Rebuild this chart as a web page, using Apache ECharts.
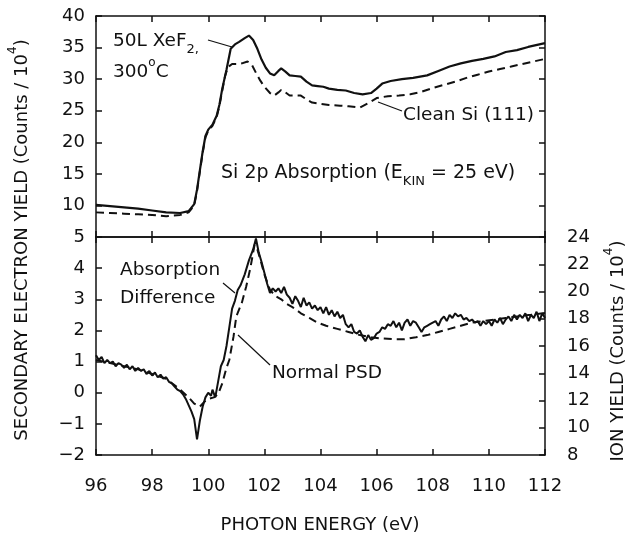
<!DOCTYPE html>
<html><head><meta charset="utf-8">
<script src="https://cdn.jsdelivr.net/npm/echarts@6/dist/echarts.min.js"></script>
<style>html,body{margin:0;padding:0;background:#fff}#c{width:631px;height:533px}</style>
</head><body><div id="c"></div><script>
// Photon energy axis ticks (eV)
const energyTicks = [96, 98, 100, 102, 104, 106, 108, 110, 112];
// Top panel: secondary electron yield (Counts/10^4)
const xef2Yield = [
 [96.0,10.1],[96.5,9.9],[97.0,9.7],[97.5,9.5],[98.0,9.2],[98.5,8.9],[99.0,8.8],[99.3,9.1],[99.5,10.2],
 [99.6,12.5],[99.7,15.5],[99.8,18.5],[99.9,21.0],[100.0,22.0],[100.15,22.8],[100.3,24.2],[100.4,26.0],
 [100.5,28.5],[100.65,31.5],[100.8,34.8],[100.95,35.5],[101.1,35.9],[101.3,36.5],[101.45,36.9],[101.6,36.2],
 [101.75,34.8],[101.9,33.1],[102.05,31.8],[102.2,30.9],[102.35,30.6],[102.5,31.3],[102.6,31.7],[102.75,31.2],
 [102.9,30.6],[103.1,30.5],[103.3,30.4],[103.5,29.6],[103.7,29.0],[103.9,28.9],[104.1,28.8],[104.3,28.5],
 [104.6,28.3],[104.9,28.2],[105.2,27.8],[105.5,27.6],[105.8,27.8],[106.0,28.5],[106.2,29.3],[106.5,29.7],
 [106.9,30.0],[107.3,30.2],[107.8,30.6],[108.2,31.3],[108.6,32.0],[109.0,32.5],[109.4,32.9],[109.8,33.2],
 [110.2,33.6],[110.6,34.3],[111.0,34.6],[111.4,35.1],[111.8,35.5],[112.0,35.7]
];
const cleanSiYield = [
 [96.0,8.9],[96.5,8.8],[97.0,8.7],[97.5,8.6],[98.0,8.5],[98.5,8.3],[99.0,8.5],[99.3,8.9],[99.5,10.0],
 [99.6,12.3],[99.7,15.3],[99.8,18.3],[99.9,20.8],[100.0,21.8],[100.15,22.6],[100.3,24.0],[100.4,25.8],
 [100.5,28.2],[100.6,30.5],[100.7,31.9],[100.85,32.4],[101.0,32.4],[101.2,32.5],[101.4,32.8],[101.55,32.3],
 [101.7,31.0],[101.85,29.8],[102.0,28.8],[102.2,27.8],[102.35,27.4],[102.5,27.9],[102.6,28.3],[102.75,27.9],
 [102.9,27.4],[103.1,27.4],[103.3,27.4],[103.5,26.8],[103.7,26.3],[104.0,26.1],[104.3,25.9],[104.7,25.8],
 [105.0,25.7],[105.4,25.5],[105.7,26.2],[106.0,27.0],[106.4,27.3],[106.8,27.4],[107.2,27.6],[107.6,28.0],
 [108.0,28.6],[108.4,29.1],[108.8,29.6],[109.2,30.2],[109.6,30.7],[110.0,31.2],[110.4,31.6],[110.8,32.0],
 [111.2,32.4],[111.6,32.8],[112.0,33.2]
];
// Bottom panel: absorption difference (left axis units)
const absorptionDiff = [
 [96.0,1.2],[96.1,1.05],[96.2,1.15],[96.3,0.95],[96.4,1.05],[96.5,0.95],[96.6,1.0],[96.7,0.85],[96.8,0.95],
 [96.9,0.9],[97.0,0.8],[97.1,0.9],[97.2,0.75],[97.3,0.85],[97.4,0.7],[97.5,0.8],[97.6,0.7],[97.7,0.75],
 [97.8,0.6],[97.9,0.7],[98.0,0.55],[98.1,0.65],[98.2,0.5],[98.3,0.58],[98.4,0.45],[98.5,0.5],[98.6,0.35],
 [98.7,0.3],[98.8,0.2],[98.9,0.1],[99.0,0.05],[99.1,-0.05],[99.2,-0.2],[99.3,-0.4],[99.4,-0.6],[99.5,-0.85],
 [99.6,-1.5],[99.7,-0.9],[99.8,-0.45],[99.9,-0.15],[100.0,0.0],[100.1,-0.1],[100.15,0.1],[100.25,-0.15],
 [100.35,0.35],[100.45,0.85],[100.55,1.05],[100.65,1.5],[100.75,2.1],[100.85,2.7],[100.95,2.95],[101.05,3.3],
 [101.15,3.45],[101.3,3.8],[101.45,4.25],[101.6,4.6],[101.7,4.95],[101.8,4.5],[101.9,4.2],[102.0,3.85],
 [102.1,3.5],[102.2,3.2],[102.3,3.35],[102.4,3.25],[102.5,3.35],[102.6,3.2],[102.7,3.4],[102.8,3.15],
 [102.9,3.05],[103.0,2.85],[103.1,3.1],[103.2,2.95],[103.3,2.75],[103.4,3.05],[103.5,2.8],[103.6,2.9],
 [103.7,2.7],[103.8,2.8],[103.9,2.65],[104.0,2.75],[104.1,2.55],[104.2,2.75],[104.3,2.5],[104.4,2.65],
 [104.5,2.45],[104.6,2.6],[104.7,2.4],[104.8,2.5],[104.9,2.2],[105.0,2.1],[105.1,2.2],[105.2,1.95],
 [105.3,1.9],[105.4,2.0],[105.5,1.8],[105.6,1.65],[105.7,1.85],[105.8,1.7],[105.9,1.75],[106.0,1.9],
 [106.1,1.95],[106.2,2.1],[106.3,2.05],[106.4,2.2],[106.5,2.15],[106.6,2.3],[106.7,2.1],[106.8,2.25],
 [106.9,2.0],[107.0,2.25],[107.1,2.35],[107.2,2.15],[107.3,2.3],[107.4,2.25],[107.5,2.1],[107.6,1.95],
 [107.7,2.1],[107.8,2.15],[107.9,2.2],[108.0,2.25],[108.1,2.3],[108.2,2.15],[108.3,2.35],[108.4,2.45],
 [108.5,2.3],[108.6,2.5],[108.7,2.4],[108.8,2.55],[108.9,2.45],[109.0,2.5],[109.1,2.35],[109.2,2.4],
 [109.3,2.3],[109.4,2.35],[109.5,2.25],[109.6,2.3],[109.7,2.15],[109.8,2.3],[109.9,2.2],[110.0,2.3],
 [110.1,2.15],[110.2,2.35],[110.3,2.25],[110.4,2.4],[110.5,2.2],[110.6,2.35],[110.7,2.45],[110.8,2.3],
 [110.9,2.5],[111.0,2.35],[111.1,2.5],[111.2,2.4],[111.3,2.55],[111.4,2.3],[111.5,2.5],[111.6,2.4],
 [111.7,2.6],[111.8,2.3],[111.9,2.55],[112.0,2.4]
];
// Bottom panel: normal PSD ion yield (plotted in left-axis units)
const normalPSD = [
 [96.0,1.05],[96.5,0.95],[97.0,0.85],[97.5,0.75],[98.0,0.6],[98.5,0.45],[99.0,0.1],[99.3,-0.15],[99.5,-0.35],
 [99.7,-0.45],[99.85,-0.3],[100.0,-0.2],[100.2,-0.15],[100.35,-0.05],[100.5,0.3],[100.65,0.8],[100.75,1.05],
 [100.9,1.8],[101.0,2.45],[101.2,2.9],[101.35,3.4],[101.5,4.0],[101.65,4.75],[101.75,4.6],[101.85,4.3],
 [102.0,3.8],[102.2,3.3],[102.4,3.1],[102.6,3.0],[102.8,2.85],[103.0,2.75],[103.3,2.55],[103.6,2.4],
 [103.9,2.25],[104.2,2.15],[104.6,2.05],[105.0,1.95],[105.4,1.85],[105.8,1.78],[106.2,1.74],[106.6,1.72],
 [107.0,1.72],[107.4,1.78],[107.8,1.85],[108.2,1.95],[108.6,2.05],[109.0,2.15],[109.4,2.25],[109.8,2.3],
 [110.2,2.35],[110.6,2.4],[111.0,2.45],[111.5,2.5],[112.0,2.56]
];
// Axis ranges
const topYRange = [5, 40, 5];
const bottomYRange = [-2, 5, 1];
const ionYRange = [8, 24, 2];

const FONT = 'DejaVu Sans';
const INK = '#111';
const chart = echarts.init(document.getElementById('c'), null, {renderer: 'canvas'});

const axisLine = {show: true, onZero: false, lineStyle: {color: INK, width: 1.5}};
const tick = {show: true, inside: true, length: 6, lineStyle: {color: INK, width: 1.5}};
const lbl = {color: INK, fontFamily: FONT, fontSize: 18};

function xAx(grid, pos, showLabel) {
  return {
    gridIndex: grid, type: 'value', position: pos,
    min: energyTicks[0], max: energyTicks[energyTicks.length - 1], interval: energyTicks[1] - energyTicks[0],
    axisLine, axisTick: tick, splitLine: {show: false},
    axisLabel: showLabel ? Object.assign({margin: 22}, lbl) : {show: false}
  };
}
function yAx(grid, pos, r, labelOpt) {
  return {
    gridIndex: grid, type: 'value', position: pos,
    min: r[0], max: r[1], interval: r[2],
    axisLine, axisTick: tick, splitLine: {show: false},
    axisLabel: labelOpt ? labelOpt : {show: false}
  };
}
const minus = v => String(v).replace('-', '\u2212');

const sup = {fontSize: 12, fontFamily: FONT, color: INK, verticalAlign: 'top', lineHeight: 12};
const sub = {fontSize: 13, fontFamily: FONT, color: INK, verticalAlign: 'bottom', lineHeight: 13};

function txt(x, y, text, size, opts) {
  return Object.assign({
    type: 'text', x: x, y: y, silent: true,
    style: {text: text, rich: {sup: sup, sub: sub}, fill: INK, font: size + 'px "DejaVu Sans"',
            lineHeight: 30, align: 'left', verticalAlign: 'middle'}
  }, opts || {});
}
function line(x1, y1, x2, y2) {
  return {type: 'line', silent: true, shape: {x1, y1, x2, y2}, style: {stroke: INK, lineWidth: 1.2}};
}

const option = {
  animation: false,
  backgroundColor: '#fff',
  grid: [
    {left: 96, top: 16, width: 449, height: 221, show: false},
    {left: 96, top: 237, width: 449, height: 218, show: false}
  ],
  xAxis: [xAx(0, 'bottom', false), xAx(0, 'top', false), xAx(1, 'top', false), xAx(1, 'bottom', true)],
  yAxis: [
    yAx(0, 'left', topYRange, Object.assign({margin: 11, showMinLabel: false}, lbl)),
    yAx(0, 'right', topYRange, null),
    yAx(1, 'left', bottomYRange, Object.assign({margin: 11, formatter: minus}, lbl)),
    yAx(1, 'right', ionYRange, Object.assign({margin: 22, align: 'left'}, lbl))
  ],
  series: [
    {type: 'line', name: '50L XeF2', xAxisIndex: 0, yAxisIndex: 0, data: xef2Yield, showSymbol: false,
     lineStyle: {color: INK, width: 2.2}, z: 3},
    {type: 'line', name: 'Clean Si (111)', xAxisIndex: 0, yAxisIndex: 0, data: cleanSiYield, showSymbol: false,
     lineStyle: {color: INK, width: 2, type: [8, 5]}, z: 2},
    {type: 'line', name: 'Absorption Difference', xAxisIndex: 3, yAxisIndex: 2, data: absorptionDiff, showSymbol: false,
     lineStyle: {color: INK, width: 2}, z: 3},
    {type: 'line', name: 'Normal PSD', xAxisIndex: 3, yAxisIndex: 2, data: normalPSD, showSymbol: false,
     lineStyle: {color: INK, width: 2, type: [8, 5]}, z: 2}
  ],
  graphic: [
    // axis titles
    txt(22, 240, 'SECONDARY ELECTRON YIELD (Counts / 10{sup|4})', 18,
        {rotation: Math.PI / 2}),
    txt(618, 351, 'ION YIELD (Counts / 10{sup|4})', 18, {rotation: Math.PI / 2}),
    txt(320, 525, 'PHOTON ENERGY (eV)', 18),
    // annotations
    txt(113, 41, '50L XeF{sub|2,}', 18.5),
    txt(113, 72, '300{sup|o}C', 18.5),
    line(208, 40, 232, 47),
    txt(403, 115, 'Clean Si (111)', 18.5),
    line(378, 102, 402, 111),
    txt(221, 173, 'Si 2p Absorption (E{sub|KIN} = 25 eV)', 19),
    txt(120, 270, 'Absorption', 18.5),
    txt(120, 298, 'Difference', 18.5),
    line(223, 283, 235, 293),
    txt(272, 373, 'Normal PSD', 18.5),
    line(238, 335, 270, 365)
  ]
};
// centre-aligned titles
option.graphic[0].style.align = 'center';
option.graphic[1].style.align = 'center';
option.graphic[2].style.align = 'center';
chart.setOption(option);
</script></body></html>
